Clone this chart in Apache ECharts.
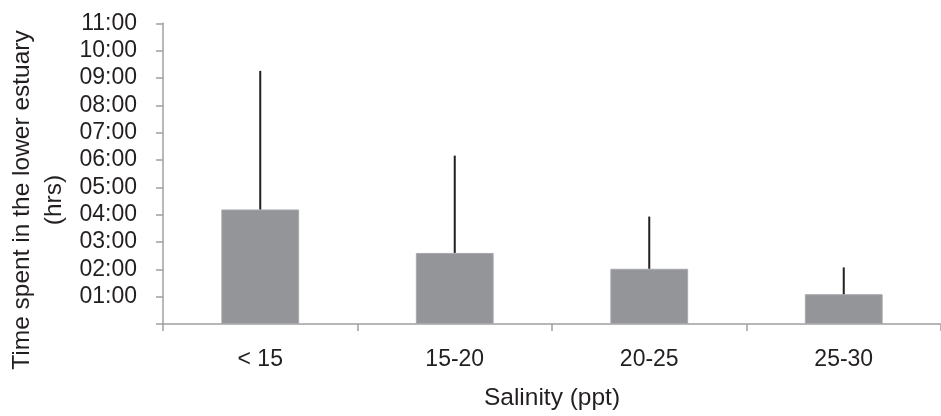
<!DOCTYPE html>
<html>
<head>
<meta charset="utf-8">
<script src="https://cdn.jsdelivr.net/npm/echarts@6/dist/echarts.min.js"></script>
<style>
html,body{margin:0;padding:0;background:#fff;}
#chart{width:941px;height:416px;}
</style>
</head>
<body>
<div id="chart"></div>
<script>
// Data (hours)
const categories = ['< 15', '15-20', '20-25', '25-30'];
const meanHours = [4.19, 2.60, 2.02, 1.09];
const errorHours = [5.07, 3.56, 1.91, 0.98];
const yTickHours = [0, 1, 2, 3, 4, 5, 6, 7, 8, 9, 10, 11];
const xTitle = 'Salinity (ppt)';
const yTitle = 'Time spent in the lower estuary\n(hrs)';

const FONT = 'Liberation Sans, Arial, sans-serif';
const TXT = '#231f20';
const AX = '#a0a0a0';

const errData = categories.map((c, i) => [i, meanHours[i], meanHours[i] + errorHours[i]]);

const chart = echarts.init(document.getElementById('chart'), null, {renderer: 'canvas'});
chart.setOption({
  animation: false,
  backgroundColor: '#ffffff',
  grid: {left: 163, top: 23.3, width: 786, height: 305, containLabel: false},
  xAxis: {
    type: 'category',
    data: categories,
    boundaryGap: true,
    axisLine: {show: true, lineStyle: {color: AX, width: 1.5}},
    axisTick: {show: true, length: 7, lineStyle: {color: AX, width: 1.5}, alignWithLabel: false},
    axisLabel: {color: TXT, fontFamily: FONT, fontSize: 23, margin: 24},
    name: xTitle,
    nameLocation: 'middle',
    nameGap: 62,
    nameTextStyle: {color: TXT, fontFamily: FONT, fontSize: 24.5},
    splitLine: {show: false}
  },
  yAxis: {
    type: 'value',
    min: 0,
    max: 11,
    interval: 1,
    axisLine: {show: true, lineStyle: {color: AX, width: 1.5}},
    axisTick: {show: true, length: 7, lineStyle: {color: AX, width: 1.5}},
    axisLabel: {
      color: TXT, fontFamily: FONT, fontSize: 23, margin: 26,
      formatter: function (v) {
        if (yTickHours.indexOf(v) < 0 || v === 0) return '';
        return (v < 10 ? '0' : '') + v + ':00';
      }
    },
    splitLine: {show: false}
  },
  graphic: [{
    type: 'text',
    x: 38.5,
    y: 200,
    rotation: Math.PI / 2,
    style: {
      text: yTitle,
      font: '24.5px ' + FONT,
      fill: TXT,
      align: 'center',
      verticalAlign: 'middle',
      textAlign: 'center',
      textVerticalAlign: 'middle',
      lineHeight: 32
    }
  }],
  series: [
    {
      type: 'bar',
      data: meanHours,
      barWidth: '40%',
      itemStyle: {color: '#939598', borderColor: '#a7a9ac', borderWidth: 1},
      z: 2
    },
    {
      type: 'custom',
      data: errData,
      z: 3,
      renderItem: function (params, api) {
        const p0 = api.coord([api.value(0), api.value(1)]);
        const p1 = api.coord([api.value(0), api.value(2)]);
        return {
          type: 'line',
          shape: {x1: p0[0], y1: p0[1], x2: p1[0], y2: p1[1]},
          style: {stroke: '#231f20', lineWidth: 2}
        };
      }
    }
  ]
});
</script>
</body>
</html>
